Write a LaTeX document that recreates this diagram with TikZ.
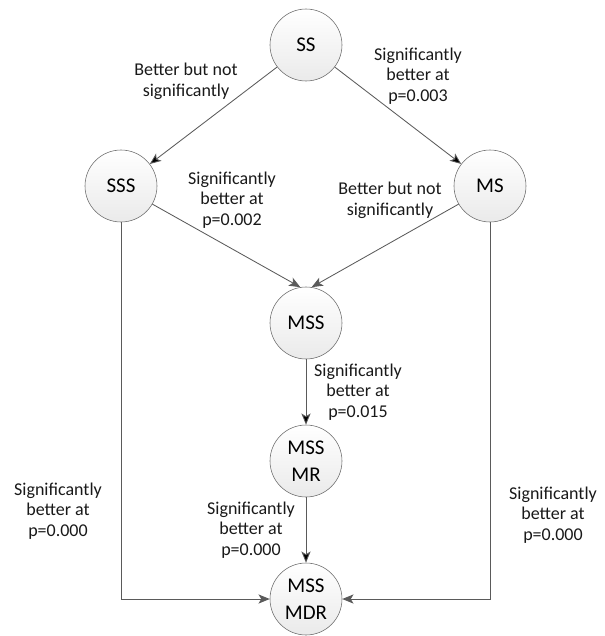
\documentclass[tikz,border=0pt]{standalone}
\usepackage{fontspec}
\setmainfont{Carlito}
\usetikzlibrary{arrows.meta,positioning,shapes.geometric}
\definecolor{linegray}{RGB}{90,90,90}
\definecolor{ringgray}{RGB}{105,105,105}
\definecolor{fillgray}{RGB}{234,234,234}
\begin{document}
\begin{tikzpicture}[
      vertex/.style={circle, draw=ringgray, top color=white, bottom color=fillgray, inner sep=0pt, minimum size=1.8cm, align=center, font=\fontsize{14.9}{19}\selectfont},
      lbl/.style={align=center, inner sep=0pt, text=black!90, font=\fontsize{12.8}{14.7}\selectfont},
      pfeil/.style={draw=linegray, line width=0.6pt, -{Stealth[length=8pt,width=6.5pt,inset=2pt]}}]

\useasboundingbox (0,0) rectangle (15.125,-15.9);

\node[vertex] (ss) at (7.65,-1.125) {SS};
\node[vertex] (sss) at (3.025,-4.65) {SSS};
\node[vertex] (ms) at (12.25,-4.65) {MS};
\node[vertex] (mss) at (7.65,-8.075) {MSS};
\node[vertex] (mssmr) at (7.65,-11.525) {MSS\\MR};
\node[vertex] (mssmdr) at (7.65,-14.975) {MSS\\MDR};

\node[lbl] (t1) at (4.65,-2.025) {Better but not\\significantly};
\node[lbl] (t2) at (10.45,-1.9) {Significantly\\better at\\p=0.003};
\node[lbl] (t3) at (5.8,-5.0) {Significantly\\better at\\p=0.002};
\node[lbl] (t4) at (9.75,-5.0) {Better but not\\significantly};
\node[lbl] (t5) at (8.95,-9.8) {Significantly\\better at\\p=0.015};
\node[lbl] (t6) at (1.45,-12.775) {Significantly\\better at\\p=0.000};
\node[lbl] (t7) at (6.275,-13.25) {Significantly\\better at\\p=0.000};
\node[lbl] (t8) at (13.825,-12.875) {Significantly\\better at\\p=0.000};

\draw[pfeil] (ss) edge (sss);
\draw[pfeil] (ss) edge (ms);
\draw[pfeil] (sss.-30) -- (mss.99);
\draw[pfeil] (ms.210) -- (mss.81);
\draw[pfeil] (mss) edge (mssmr);
\draw[pfeil] (mssmr) edge (mssmdr);
\draw[pfeil] (sss) |- (mssmdr);
\draw[pfeil] (ms) |- (mssmdr);

\end{tikzpicture}
\end{document}
